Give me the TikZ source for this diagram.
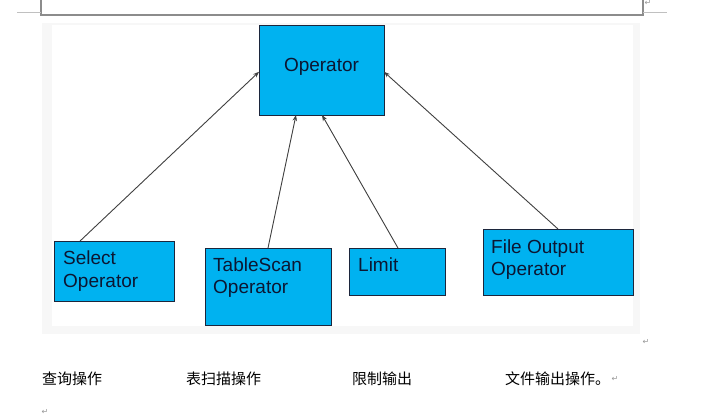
\documentclass[tikz,border=0pt]{standalone}
\usepackage{fontspec}
\setmainfont{Liberation Sans}
\newfontfamily\cjk{Noto Sans CJK SC}
\newfontfamily\symf{DejaVu Sans}
\usetikzlibrary{arrows.meta,calc}
\definecolor{boxfill}{RGB}{0,178,240}
\definecolor{boxline}{RGB}{28,38,60}
\definecolor{txt}{RGB}{12,22,50}
\definecolor{arr}{RGB}{64,64,64}
\definecolor{pagegray}{RGB}{140,140,140}
\definecolor{markgray}{RGB}{150,150,150}
\begin{document}
\begin{tikzpicture}[x=1pt,y=-1pt,
  box/.style={draw=boxline,line width=1pt,fill=boxfill,anchor=north west,inner sep=0pt,outer sep=0pt},
  lbl/.style={text=txt,font=\fontsize{19}{22.5}\selectfont,inner sep=0pt,anchor=base west,align=left},
  cn/.style={font=\cjk\fontsize{15}{15}\selectfont,inner sep=0pt,anchor=base west},
  retmark/.style={font=\symf\fontsize{8}{8}\selectfont,text=markgray,inner sep=0pt},
  conn/.style={draw=arr,line width=0.9pt,-{Stealth[length=6pt,width=4.5pt]}}]
\useasboundingbox (0,0) rectangle (726,418);
% page frame pieces
\draw[pagegray,line width=1.2pt] (41,0) -- (41,15) -- (643,15) -- (643,0);
\draw[markgray!60,line width=1pt] (17,12.5) -- (41,12.5);
\draw[markgray!60,line width=1pt] (643,12.5) -- (667,12.5);
% picture background
\fill[black!3] (42,23) rectangle (640,334);
\fill[white] (52,25) rectangle (633,326);
% boxes
\node[box,minimum width=125pt,minimum height=90pt] (op) at (259,25) {};
\node[box,minimum width=120pt,minimum height=60pt] (sel) at (54,241) {};
\node[box,minimum width=126pt,minimum height=77pt] (ts) at (205,248) {};
\node[box,minimum width=96pt,minimum height=47pt] (lim) at (349,248) {};
\node[box,minimum width=150pt,minimum height=66pt] (fo) at (483,229) {};
% labels (base anchor = last line's baseline)
\node[lbl,anchor=base] (opt) at (321.5,71) {Operator};
\node[lbl] (selt) at (63,287) {Select\\Operator};
\node[lbl] (tst) at (213,293.5) {TableScan\\Operator};
\node[lbl] (limt) at (358,271) {Limit};
\node[lbl] (fot) at (491,275.5) {File Output\\Operator};
% connectors
\draw[conn] ($(sel.north west)!0.217!(sel.north east)$) -- ($(op.north west)!0.52!(op.south west)$);
\draw[conn] (ts.north) -- ($(op.south west)!0.296!(op.south east)$);
\draw[conn] ($(lim.north west)!0.51!(lim.north east)$) -- ($(op.south west)!0.504!(op.south east)$);
\draw[conn] (fo.north) -- ($(op.north east)!0.52!(op.south east)$);
% chinese captions
\node[cn] (c1) at (42,384) {查询操作};
\node[cn] (c2) at (186,384) {表扫描操作};
\node[cn] (c3) at (352,384) {限制输出};
\node[cn] (c4) at (505,384) {文件输出操作。};
% return marks
\node[retmark] (r1) at (648,3) {↵};
\node[retmark] (r2) at (646,342) {↵};
\node[retmark] (r3) at (615,379) {↵};
\node[retmark] (r4) at (45,412) {↵};
\end{tikzpicture}
\end{document}
